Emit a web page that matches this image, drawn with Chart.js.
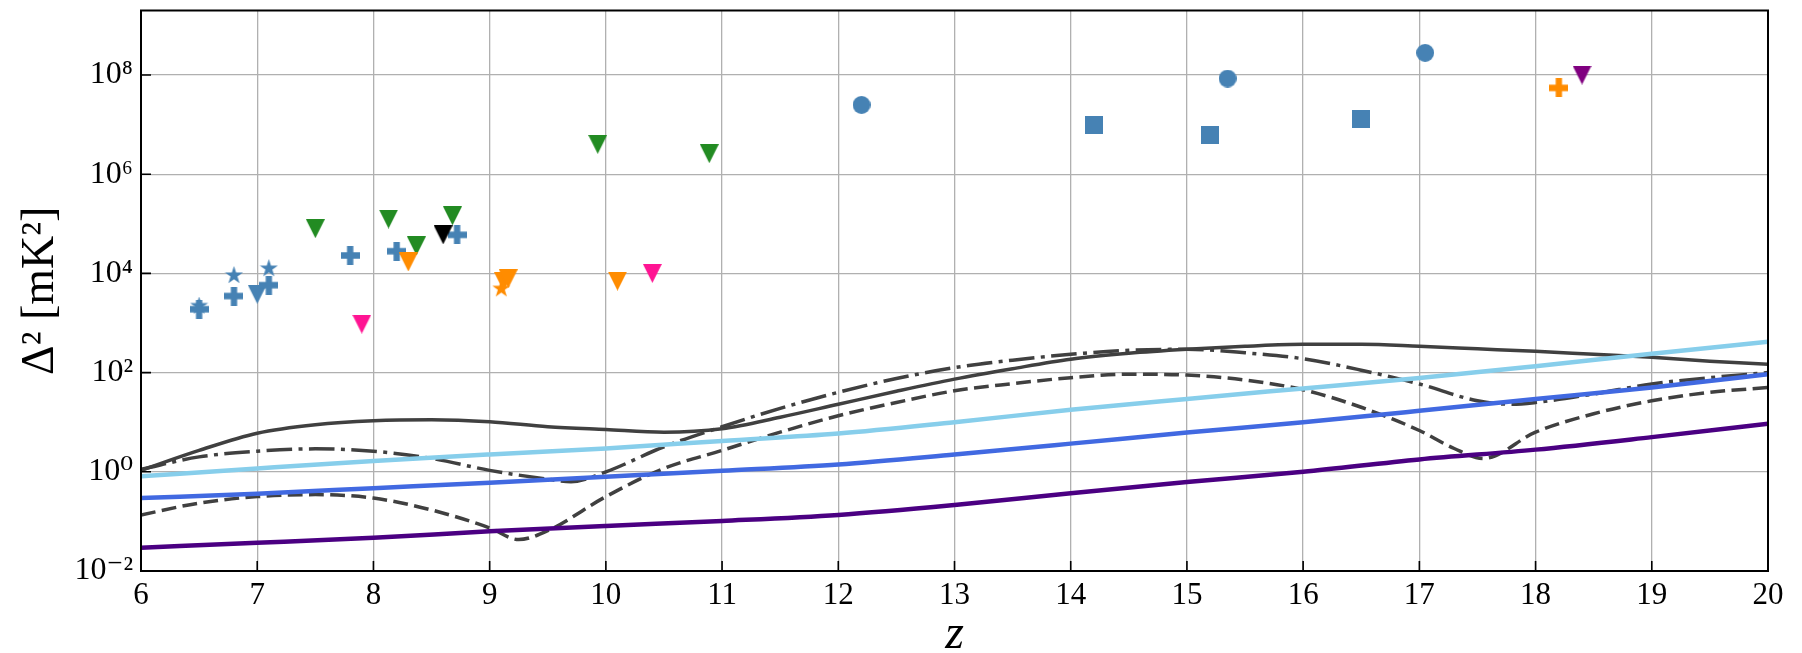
<!DOCTYPE html>
<html lang="en">
<head>
<meta charset="UTF-8">
<title>Delta^2 vs z</title>
<script src="https://cdn.jsdelivr.net/npm/chart.js"></script>
<style>
  html, body { margin: 0; padding: 0; background: #fff; }
  #wrap { width: 1802px; height: 653px; }
</style>
</head>
<body>
<div id="wrap"><canvas id="myChart"></canvas></div>
<script>
// ---- data ----
// model curves
const solidZ = [6, 6.5, 7, 7.5, 8, 8.5, 9, 9.5, 10, 10.5, 11, 11.5, 12, 12.5, 13, 13.5, 14, 14.5, 15, 15.5, 16, 16.5, 17, 17.5, 18, 18.5, 19, 19.5, 20];
const solidVal = [1.07, 2.7, 6.0, 8.9, 10.7, 11.2, 10.2, 8.1, 7.1, 6.3, 7.4, 12.6, 23, 42, 74, 120, 186, 245, 295, 339, 372, 372, 339, 302, 269, 234, 204, 170, 148];

const dashdotZ = [6, 6.5, 7, 7.5, 8, 8.5, 9, 9.5, 9.7, 10, 10.5, 11, 11.5, 12, 12.5, 13, 13.5, 14, 14.5, 15, 15.5, 16, 16.5, 17, 17.5, 17.8, 18, 18.5, 19, 19.5, 20];
const dashdotVal = [1.12, 2.0, 2.6, 2.9, 2.6, 1.86, 1.07, 0.71, 0.63, 1.0, 3.2, 8.1, 19, 40, 76, 126, 178, 234, 282, 295, 251, 190, 112, 59, 27, 23, 25, 37, 59, 79, 100];

const dashedZ = [6, 6.5, 7, 7.5, 8, 8.5, 9, 9.25, 9.5, 10, 10.5, 11, 11.5, 12, 12.5, 13, 13.5, 14, 14.5, 15, 15.5, 16, 16.5, 17, 17.3, 17.55, 18, 18.5, 19, 19.5, 20];
const dashedVal = [0.135, 0.234, 0.316, 0.347, 0.295, 0.17, 0.074, 0.043, 0.065, 0.316, 1.17, 2.7, 6.3, 13.5, 25, 43, 60, 79, 93, 89, 71, 45, 20, 6.8, 2.95, 1.86, 6.3, 14.8, 27, 40, 50];

const bandZ = [6, 7, 8, 9, 10, 11, 12, 13, 14, 15, 16, 17, 18, 19, 20];
const skyVal = [0.81, 1.17, 1.66, 2.24, 2.95, 4.2, 5.9, 10, 17.8, 29.5, 48, 78, 135, 240, 417];
const royalVal = [0.295, 0.363, 0.468, 0.603, 0.794, 1.05, 1.41, 2.24, 3.7, 6.2, 10, 17, 29.5, 50, 93];
const indigoVal = [0.0295, 0.037, 0.047, 0.063, 0.081, 0.102, 0.135, 0.214, 0.37, 0.62, 1.0, 1.78, 2.8, 5.0, 9.3];

// upper limits / measurements
const bluePlusZ = [6.5, 6.8, 7.1, 7.8, 8.2, 8.72];
const bluePlusVal = [1.9e3, 3.5e3, 5.8e3, 2.3e4, 2.8e4, 6e4];
const blueStarZ = [6.5, 6.8, 7.1];
const blueStarVal = [2.2e3, 9.1e3, 1.25e4];
const blueTriZ = [7.0];
const blueTriVal = [3.8e3];
const blueCircleZ = [12.2, 15.35, 17.05];
const blueCircleVal = [2.5e7, 8.5e7, 2.8e8];
const blueSquareZ = [14.2, 15.2, 16.5];
const blueSquareVal = [1e7, 6.3e6, 1.3e7];
const greenTriZ = [7.5, 8.13, 8.37, 8.68, 9.93, 10.89];
const greenTriVal = [8e4, 1.25e5, 3.6e4, 1.45e5, 4e6, 2.6e6];
const orangeTriZ = [8.3, 9.12, 9.16, 10.1];
const orangeTriVal = [1.7e4, 6.8e3, 7.8e3, 7e3];
const orangeStarZ = [9.1];
const orangeStarVal = [4.9e3];
const orangePlusZ = [18.2];
const orangePlusVal = [5.5e7];
const pinkTriZ = [7.9, 10.4];
const pinkTriVal = [950, 1e4];
const blackTriZ = [8.6];
const blackTriVal = [6e4];
const purpleTriZ = [18.4];
const purpleTriVal = [1e8];

const xTicks = [6, 7, 8, 9, 10, 11, 12, 13, 14, 15, 16, 17, 18, 19, 20];
const yTicks = [1e-2, 1e0, 1e2, 1e4, 1e6, 1e8];

// ---- helpers ----
const serif = "'Liberation Serif', 'DejaVu Serif', serif";
const pts = (zs, vs) => zs.map((z, i) => ({ x: z, y: vs[i] }));

// filled marker shapes like matplotlib's v, P, *, o, s
function marker(shape, color, size) {
  const c = document.createElement('canvas');
  c.width = size; c.height = size;
  const g = c.getContext('2d');
  const s = size, h = size / 2;
  g.fillStyle = color;
  g.beginPath();
  if (shape === 'v') {
    g.moveTo(0, 0); g.lineTo(s, 0); g.lineTo(h, s);
  } else if (shape === 'P') {
    const a = s / 3, b = 2 * s / 3;
    g.moveTo(a, 0); g.lineTo(b, 0); g.lineTo(b, a); g.lineTo(s, a); g.lineTo(s, b); g.lineTo(b, b);
    g.lineTo(b, s); g.lineTo(a, s); g.lineTo(a, b); g.lineTo(0, b); g.lineTo(0, a); g.lineTo(a, a);
  } else if (shape === '*') {
    for (let k = 0; k < 10; k++) {
      const r = k % 2 === 0 ? h : h * 0.382;
      const ang = -Math.PI / 2 + k * Math.PI / 5;
      const px = h + r * Math.cos(ang), py = h + r * Math.sin(ang);
      if (k === 0) g.moveTo(px, py); else g.lineTo(px, py);
    }
  } else if (shape === 'o') {
    g.arc(h, h, h, 0, Math.PI * 2);
  } else {
    g.rect(0, 0, s, s);
  }
  g.closePath();
  g.fill();
  return c;
}

function pointSet(zs, vs, shape, color, size) {
  return {
    data: pts(zs, vs),
    pointStyle: marker(shape, color, size),
    pointRadius: size / 2,
    showLine: false
  };
}

function curve(zs, vs, color, width, dash) {
  return {
    data: pts(zs, vs),
    showLine: true,
    borderColor: color,
    borderWidth: width,
    borderDash: dash,
    pointRadius: 0,
    cubicInterpolationMode: 'monotone',
    fill: false
  };
}

const sup = { '-': '\u207B', '0': '\u2070', '1': '\u00B9', '2': '\u00B2', '3': '\u00B3', '4': '\u2074', '5': '\u2075', '6': '\u2076', '7': '\u2077', '8': '\u2078', '9': '\u2079' };
const expLabel = v => '10' + String(Math.round(Math.log10(v))).split('').map(c => sup[c]).join('');

// frame + inward ticks, drawn over the data like matplotlib spines
const framePlugin = {
  id: 'frame',
  afterDatasetsDraw(chart) {
    const { ctx, chartArea: a, scales: { x, y } } = chart;
    ctx.save();
    ctx.strokeStyle = '#000';
    ctx.lineWidth = 1.6;
    ctx.beginPath();
    xTicks.forEach(t => {
      const px = x.getPixelForValue(t);
      ctx.moveTo(px, a.bottom); ctx.lineTo(px, a.bottom - 10);
    });
    yTicks.forEach(t => {
      const py = y.getPixelForValue(t);
      ctx.moveTo(a.left, py); ctx.lineTo(a.left + 10, py);
    });
    ctx.stroke();
    ctx.lineWidth = 2;
    ctx.strokeRect(a.left, a.top, a.right - a.left, a.bottom - a.top);
    ctx.restore();
  }
};

const dark = '#404040';

const ctx = document.querySelector('#myChart');
const deltaChart = new Chart(ctx, {
  type: 'scatter',
  data: {
    datasets: [
      pointSet(orangeTriZ, orangeTriVal, 'v', '#ff8c00', 19),
      pointSet(blackTriZ, blackTriVal, 'v', '#000000', 19),
      pointSet(greenTriZ, greenTriVal, 'v', '#228b22', 19),
      pointSet(pinkTriZ, pinkTriVal, 'v', '#ff1493', 19),
      pointSet(purpleTriZ, purpleTriVal, 'v', '#800080', 19),
      pointSet(orangeStarZ, orangeStarVal, '*', '#ff8c00', 19),
      pointSet(orangePlusZ, orangePlusVal, 'P', '#ff8c00', 19),
      pointSet(bluePlusZ, bluePlusVal, 'P', '#4682b4', 19),
      pointSet(blueStarZ, blueStarVal, '*', '#4682b4', 19),
      pointSet(blueTriZ, blueTriVal, 'v', '#4682b4', 19),
      pointSet(blueCircleZ, blueCircleVal, 'o', '#4682b4', 18),
      pointSet(blueSquareZ, blueSquareVal, 's', '#4682b4', 18),
      curve(bandZ, skyVal, '#87ceeb', 4.5, []),
      curve(bandZ, royalVal, '#4169e1', 4.5, []),
      curve(bandZ, indigoVal, '#4b0082', 4.5, []),
      curve(solidZ, solidVal, dark, 3.5, []),
      curve(dashdotZ, dashdotVal, dark, 3.5, [25.6, 6.4, 4, 6.4]),
      curve(dashedZ, dashedVal, dark, 3.5, [14.8, 6.4])
    ]
  },
  options: {
    responsive: true,
    maintainAspectRatio: false,
    animation: false,
    layout: { padding: { top: 6, right: 34, left: 0, bottom: 0 } },
    plugins: { legend: { display: false }, tooltip: { enabled: false } },
    scales: {
      x: {
        type: 'linear',
        min: 6, max: 20,
        afterBuildTicks: s => { s.ticks = xTicks.map(v => ({ value: v })); },
        afterFit: s => { s.height = 82; s.paddingLeft = 0; s.paddingRight = 0; },
        grid: { color: '#b0b0b0', lineWidth: 1.3, drawTicks: false },
        border: { display: false },
        ticks: { color: '#000', padding: 6, font: { family: serif, size: 31 }, maxRotation: 0 },
        title: {
          display: true, text: 'z', color: '#000',
          font: { family: serif, size: 48, style: 'italic', lineHeight: 0.72 },
          padding: { top: 0, bottom: 0 }
        }
      },
      y: {
        type: 'logarithmic',
        min: 1e-2, max: 2e9,
        afterBuildTicks: s => { s.ticks = yTicks.map(v => ({ value: v })); },
        afterFit: s => { s.width = 141; s.paddingTop = 0; s.paddingBottom = 0; },
        grid: { color: '#b0b0b0', lineWidth: 1.3, drawTicks: false },
        border: { display: false },
        ticks: { color: '#000', padding: 8, font: { family: serif, size: 32 }, callback: v => expLabel(v) },
        title: {
          display: true, text: '\u0394\u00B2 [mK\u00B2]', color: '#000',
          font: { family: serif, size: 46, lineHeight: 1.2 },
          padding: { top: 13, bottom: 0 }
        }
      }
    }
  },
  plugins: [framePlugin]
});
</script>
</body>
</html>
